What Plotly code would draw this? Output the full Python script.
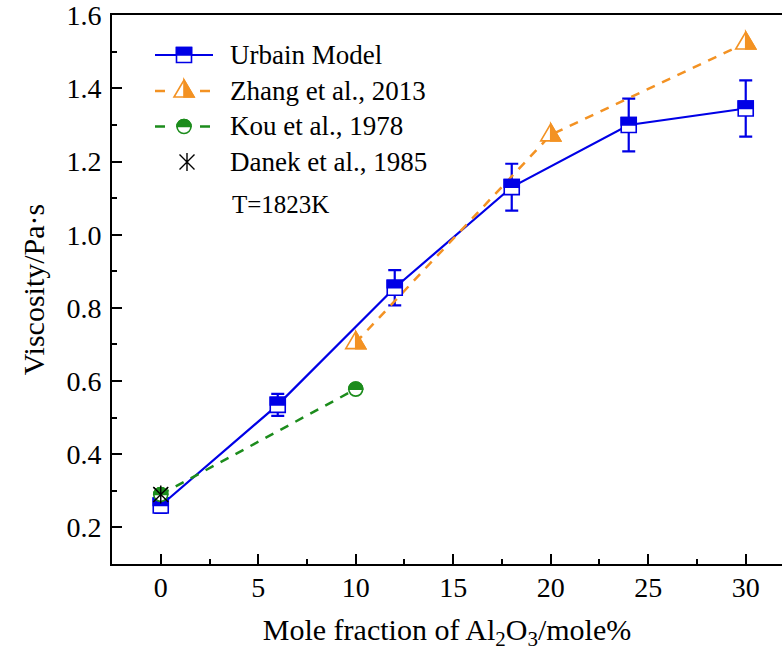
import plotly.graph_objects as go

# ---------------- data ----------------
urbain_x = [0, 6, 12, 18, 24, 30]
urbain_y = [0.26, 0.535, 0.855, 1.13, 1.30, 1.345]
urbain_err = [0.02, 0.03, 0.048, 0.064, 0.072, 0.077]

zhang_x = [10, 20, 30]
zhang_y = [0.705, 1.273, 1.524]

kou_x = [0, 10]
kou_y = [0.29, 0.578]

danek_x = [0]
danek_y = [0.29]

legend_labels = ["Urbain Model", "Zhang et al., 2013", "Kou et al., 1978", "Danek et al., 1985"]
note_text = "T=1823K"
x_title = "Mole fraction of Al<sub>2</sub>O<sub>3</sub>/mole%"
y_title = "Viscosity/Pa·s"

# ---------------- style ----------------
BLUE = "#0000E6"
ORANGE = "#F39223"
GREEN = "#1C8C1C"
BLACK = "#000000"
FONT = "'Liberation Serif', 'Times New Roman', 'DejaVu Serif', serif"

W, H = 782, 655
ML, MR, MT, MB = 112, 0, 15, 91
PW, PH = W - ML - MR, H - MT - MB


def px_to_paper(px, py):
    return (px - ML) / PW, (H - MB - py) / PH


def pshape(xref, yref, x, y, path, fill=None, line=None, lw=1.5):
    d = dict(type="path", xref=xref, yref=yref, xsizemode="pixel", ysizemode="pixel",
             xanchor=x, yanchor=y, path=path, layer="above",
             line=dict(color=line if line else "rgba(0,0,0,0)", width=lw if line else 0))
    if fill:
        d["fillcolor"] = fill
    return d


def square_shapes(xref, yref, x, y, s=7.5):
    full = f"M {-s},{-s} L {s},{-s} L {s},{s} L {-s},{s} Z"
    top = f"M {-s},0 L {s},0 L {s},{s} L {-s},{s} Z"
    return [pshape(xref, yref, x, y, full, fill="white", line=BLUE, lw=1.6),
            pshape(xref, yref, x, y, top, fill=BLUE, line=BLUE, lw=1.6)]


def triangle_shapes(xref, yref, x, y, w=10, hb=6, ht=11):
    full = f"M {-w},{-hb} L {w},{-hb} L 0,{ht} Z"
    right = f"M 0,{ht} L 0,{-hb} L {w},{-hb} Z"
    return [pshape(xref, yref, x, y, full, fill="white", line=ORANGE, lw=1.6),
            pshape(xref, yref, x, y, right, fill=ORANGE, line=ORANGE, lw=1.6)]


def circle_shapes(xref, yref, x, y, r=7.0):
    k = 0.5523 * r
    full = (f"M {r},0 C {r},{k} {k},{r} 0,{r} C {-k},{r} {-r},{k} {-r},0 "
            f"C {-r},{-k} {-k},{-r} 0,{-r} C {k},{-r} {r},{-k} {r},0 Z")
    top = f"M {r},0 C {r},{k} {k},{r} 0,{r} C {-k},{r} {-r},{k} {-r},0 Z"
    return [pshape(xref, yref, x, y, full, fill="white", line=GREEN, lw=1.6),
            pshape(xref, yref, x, y, top, fill=GREEN, line=GREEN, lw=1.6)]


def star_shapes(xref, yref, x, y, a=7.5, v=9):
    p = f"M {-a},{-a} L {a},{a} M {-a},{a} L {a},{-a} M 0,{-v} L 0,{v}"
    return [pshape(xref, yref, x, y, p, line=BLACK, lw=1.4)]


fig = go.Figure()

fig.add_trace(go.Scatter(
    x=urbain_x, y=urbain_y, mode="lines+markers", name=legend_labels[0],
    line=dict(color=BLUE, width=2.2),
    marker=dict(symbol="square", size=13, color="white", line=dict(color=BLUE, width=1.5)),
    error_y=dict(type="data", array=urbain_err, visible=True, color=BLUE, thickness=2.2, width=6.5),
    showlegend=False))

fig.add_trace(go.Scatter(
    x=zhang_x, y=zhang_y, mode="lines+markers", name=legend_labels[1],
    line=dict(color=ORANGE, width=2.5, dash="9px,8px"),
    marker=dict(symbol="triangle-up", size=14, color="white", line=dict(color=ORANGE, width=1.5)),
    showlegend=False))

fig.add_trace(go.Scatter(
    x=kou_x, y=kou_y, mode="lines+markers", name=legend_labels[2],
    line=dict(color=GREEN, width=2.5, dash="9px,8px"),
    marker=dict(symbol="circle", size=12, color="white", line=dict(color=GREEN, width=1.5)),
    showlegend=False))

fig.add_trace(go.Scatter(
    x=danek_x, y=danek_y, mode="markers", name=legend_labels[3],
    marker=dict(symbol="x-thin-open", size=14, color=BLACK, line=dict(color=BLACK, width=1.4)),
    showlegend=False))

shapes = []
for xv, yv in zip(urbain_x, urbain_y):
    shapes += square_shapes("x", "y", xv, yv)
for xv, yv in zip(zhang_x, zhang_y):
    shapes += triangle_shapes("x", "y", xv, yv)
for xv, yv in zip(kou_x, kou_y):
    shapes += circle_shapes("x", "y", xv, yv)
for xv, yv in zip(danek_x, danek_y):
    shapes += star_shapes("x", "y", xv, yv)

# ---------------- manual legend ----------------
row_y = [55, 91, 126.5, 162]
lx0, lx1, lmx, ltx = 155, 213, 184, 228
annotations = []
for i, (label, ry) in enumerate(zip(legend_labels, row_y)):
    pa, pb = px_to_paper(lx0, ry)
    pc, _ = px_to_paper(lx1, ry)
    pm, _ = px_to_paper(lmx, ry)
    if i == 0:
        shapes.append(dict(type="line", xref="paper", yref="paper", x0=pa, x1=pc, y0=pb, y1=pb,
                           line=dict(color=BLUE, width=2.2), layer="above"))
        shapes += square_shapes("paper", "paper", pm, pb)
    elif i == 1:
        shapes.append(dict(type="line", xref="paper", yref="paper", x0=pa, x1=pc, y0=pb, y1=pb,
                           line=dict(color=ORANGE, width=2.5, dash="10px,35px"), layer="above"))
        shapes += triangle_shapes("paper", "paper", pm, pb)
    elif i == 2:
        shapes.append(dict(type="line", xref="paper", yref="paper", x0=pa, x1=pc, y0=pb, y1=pb,
                           line=dict(color=GREEN, width=2.5, dash="10px,35px"), layer="above"))
        shapes += circle_shapes("paper", "paper", pm, pb)
    else:
        shapes += star_shapes("paper", "paper", pm + 3 / PW, pb)
    tx, ty = px_to_paper(ltx, ry)
    annotations.append(dict(text=label, xref="paper", yref="paper", x=tx, y=ty,
                            xanchor="left", yanchor="middle", showarrow=False,
                            font=dict(family=FONT, size=27, color=BLACK)))

nx, ny = px_to_paper(230, 204)
annotations.append(dict(text=note_text, xref="paper", yref="paper", x=nx, y=ny,
                        xanchor="left", yanchor="middle", showarrow=False,
                        font=dict(family=FONT, size=25, color=BLACK)))

axis_common = dict(showline=True, linecolor=BLACK, linewidth=2, ticks="inside", ticklen=10,
                   tickwidth=2, tickcolor=BLACK, showgrid=False, zeroline=False,
                   ticklabeloverflow="allow",
                   tickfont=dict(family=FONT, size=28, color=BLACK))

fig.update_layout(
    width=W, height=H, margin=dict(l=ML, r=MR, t=MT, b=MB),
    paper_bgcolor="white", plot_bgcolor="white",
    font=dict(family=FONT, color=BLACK),
    shapes=shapes, annotations=annotations,
    xaxis=dict(range=[-2.5, 31.86], tick0=0, dtick=5, mirror=True,
               minor=dict(ticks="inside", ticklen=5, tickwidth=2, tickcolor=BLACK, dtick=2.5, tick0=0),
               ticklabelstandoff=-3,
               title=dict(text=x_title, font=dict(family=FONT, size=30, color=BLACK), standoff=17),
               **axis_common),
    yaxis=dict(range=[0.1, 1.6005], tick0=0.2, dtick=0.2, tickformat=".1f", mirror=False,
               minor=dict(ticks="inside", ticklen=5, tickwidth=2, tickcolor=BLACK, dtick=0.1, tick0=0.1),
               ticklabelstandoff=3,
               title=dict(text=y_title, font=dict(family=FONT, size=30, color=BLACK), standoff=13),
               **axis_common),
)

fig.write_html("out.html")
